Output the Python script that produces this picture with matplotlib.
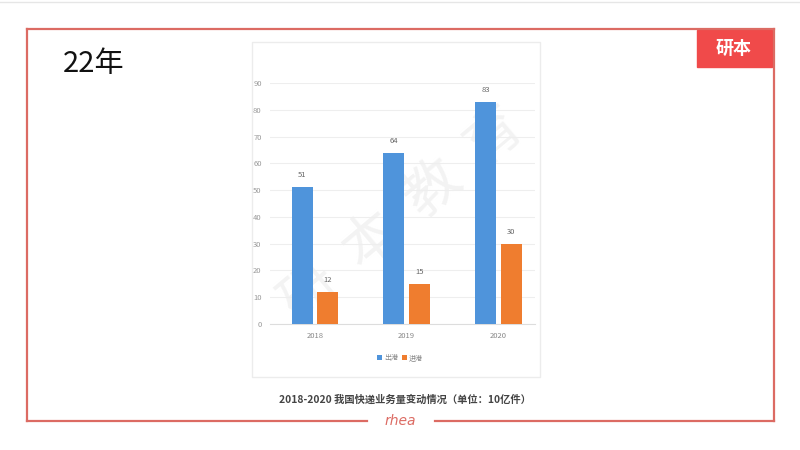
import matplotlib.pyplot as plt
import numpy as np
from matplotlib.lines import Line2D
from matplotlib.patches import Rectangle

plt.rcParams['font.family'] = ['Noto Sans CJK SC', 'DejaVu Sans']

years = ['2018', '2019', '2020']
series_names = ['出港', '进港']
volume_a = [51, 64, 83]
volume_b = [12, 15, 30]
y_ticks = [0, 10, 20, 30, 40, 50, 60, 70, 80, 90]
caption = '2018-2020 我国快递业务量变动情况（单位：10亿件）'

W, H = 800, 450
FRAME = '#dc6b63'


def fx(px):
    return px / W


def fy(py):
    return 1 - py / H


fig = plt.figure(figsize=(8, 4.5), dpi=100)
fig.patch.set_facecolor('white')

# slide frame
fig.add_artist(Line2D([fx(27), fx(27)], [fy(29), fy(421)], color=FRAME, lw=1.6))
fig.add_artist(Line2D([fx(774), fx(774)], [fy(29), fy(421)], color=FRAME, lw=1.6))
fig.add_artist(Line2D([fx(27), fx(774)], [fy(29), fy(29)], color=FRAME, lw=1.6))
fig.add_artist(Line2D([fx(27), fx(367)], [fy(421), fy(421)], color=FRAME, lw=1.6))
fig.add_artist(Line2D([fx(435), fx(774)], [fy(421), fy(421)], color=FRAME, lw=1.6))
fig.add_artist(Line2D([0, 1], [fy(2), fy(2)], color='#e6e6e6', lw=1))
fig.text(fx(400), fy(421), 'rhea', color=FRAME, fontsize=10, style='italic',
         family=['DejaVu Sans'], ha='center', va='center')

# logo
fig.add_artist(Rectangle((fx(697), fy(67)), fx(75), 37 / H, color='#f04a4a'))
fig.text(fx(734), fy(48), '研本', color='white', fontsize=13, weight='bold',
         ha='center', va='center')

fig.text(fx(63), fy(64), '22年', fontsize=21, ha='left', va='center', color='#111111')

# chart panel border
fig.add_artist(Rectangle((fx(252), fy(377)), fx(288), 335 / H, fill=False,
                         edgecolor='#ececec', lw=1))
fig.text(fx(405), fy(400), caption, fontsize=7.4, weight='bold', color='#444444',
         ha='center', va='center')

ax = fig.add_axes([fx(270), fy(324), fx(265), 241 / H])
x = np.arange(len(years))
w = 0.23
off = 0.14
b1 = ax.bar(x - off, volume_a, w, color='#4f94db', label=series_names[0], zorder=3)
b2 = ax.bar(x + off, volume_b, w, color='#ef7d2f', label=series_names[1], zorder=3)
for bars in (b1, b2):
    for r in bars:
        ax.text(r.get_x() + r.get_width() / 2, r.get_height() + 3,
                str(int(r.get_height())), ha='center', va='bottom',
                fontsize=5.5, color='#666666', zorder=4)

ax.set_xlim(-0.49, 2.4)
ax.set_ylim(0, 90)
ax.set_yticks(y_ticks)
ax.set_yticklabels([str(t) for t in y_ticks], fontsize=5.5, color='#999999')
ax.set_xticks(x)
ax.set_xticklabels(years, fontsize=5.5, color='#888888')
ax.tick_params(length=0, pad=6)
ax.grid(axis='y', color='#eeeeee', lw=0.8, zorder=0)
for s in ax.spines.values():
    s.set_visible(False)
ax.spines['bottom'].set_visible(True)
ax.spines['bottom'].set_color('#dddddd')

ax.legend(loc='center', bbox_to_anchor=((400 - 270) / 265, -(358 - 324) / 241),
          ncol=2, fontsize=5, frameon=False, handlelength=0.7, handleheight=0.7,
          columnspacing=0.6, handletextpad=0.3, labelcolor='#888888')

# faint watermark, under the bars
ax.text(0.5, 0.45, '研  本  教  育', transform=ax.transAxes, fontsize=40,
        color='#f3f3f3', rotation=40, ha='center', va='center', zorder=1,
        clip_on=False)

fig.savefig('out.png', dpi=100)
